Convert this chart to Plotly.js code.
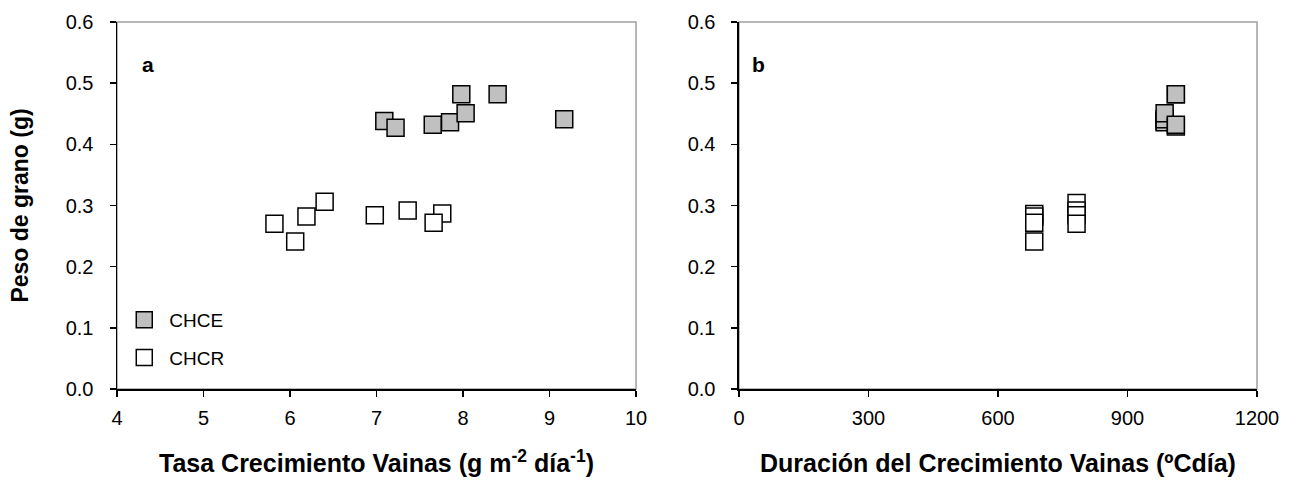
<!DOCTYPE html>
<html>
<head>
<meta charset="utf-8">
<script src="https://cdn.plot.ly/plotly-3.0.1.min.js"></script>
<style>html,body{margin:0;padding:0;background:#fff;}#chart{width:1304px;height:485px;}</style>
</head>
<body>
<div id="chart"></div>
<script>
// Panel a: Tasa Crecimiento Vainas vs Peso de grano
const chceRateA = [7.09, 7.22, 7.65, 7.85, 7.98, 8.03, 8.40, 9.17];
const chceWeightA = [0.438, 0.427, 0.432, 0.436, 0.482, 0.451, 0.482, 0.441];
const chcrRateA = [5.82, 6.06, 6.19, 6.40, 6.98, 7.36, 7.76, 7.66];
const chcrWeightA = [0.270, 0.241, 0.282, 0.306, 0.284, 0.292, 0.287, 0.272];
// Panel b: Duración del Crecimiento Vainas vs Peso de grano
const chceDurB = [986, 986, 986, 986, 1012, 1012, 1012, 1012];
const chceWeightB = [0.438, 0.436, 0.441, 0.451, 0.482, 0.482, 0.429, 0.432];
const chcrDurB = [684, 684, 684, 684, 782, 782, 782, 782];
const chcrWeightB = [0.286, 0.282, 0.272, 0.241, 0.304, 0.292, 0.284, 0.270];
const xTicksA = [4, 5, 6, 7, 8, 9, 10];
const xTicksB = [0, 300, 600, 900, 1200];
const yTicks = [0, 0.1, 0.2, 0.3, 0.4, 0.5, 0.6];

const FONT = "Liberation Sans, Arial, sans-serif";
const grayMarker = {symbol: 'square', size: 17, color: '#c0c0c0', line: {color: '#000', width: 1.5}};
const whiteMarker = {symbol: 'square', size: 17, color: '#ffffff', line: {color: '#000', width: 1.5}};

const traces = [
  {x: chceRateA, y: chceWeightA, mode: 'markers', name: 'CHCE', marker: grayMarker, xaxis: 'x', yaxis: 'y', legendgroup: 'g1'},
  {x: chcrRateA, y: chcrWeightA, mode: 'markers', name: 'CHCR', marker: whiteMarker, xaxis: 'x', yaxis: 'y', legendgroup: 'g2'},
  {x: chcrDurB, y: chcrWeightB, mode: 'markers', name: 'CHCR', marker: whiteMarker, xaxis: 'x2', yaxis: 'y2', showlegend: false},
  {x: chceDurB, y: chceWeightB, mode: 'markers', name: 'CHCE', marker: grayMarker, xaxis: 'x2', yaxis: 'y2', showlegend: false}
];

const axisCommon = {
  showgrid: false, zeroline: false, showline: true, linecolor: '#000', linewidth: 1.5,
  ticks: 'outside', ticklen: 6, tickwidth: 1.5, tickcolor: '#000',
  tickfont: {family: FONT, size: 20, color: '#000'}
};
const xTitleFont = {family: FONT, size: 25, color: '#000', weight: 'bold'};

const layout = {
  width: 1304, height: 485,
  margin: {l: 117, r: 47, t: 22, b: 96},
  paper_bgcolor: '#fff', plot_bgcolor: '#fff',
  font: {family: FONT, color: '#000'},
  showlegend: true,
  legend: {x: 0.002, y: 0.24, xanchor: 'left', yanchor: 'top', bgcolor: 'rgba(0,0,0,0)', itemwidth: 40,
           font: {family: FONT, size: 19, color: '#000'}, tracegroupgap: 10, traceorder: 'grouped'},
  xaxis: Object.assign({}, axisCommon, {domain: [0, 0.4553], range: [4, 10], tickvals: xTicksA, ticklabelstandoff: 4,
    title: {text: 'Tasa Crecimiento Vainas (g m<sup>-2</sup> día<sup>-1</sup>)', font: xTitleFont, standoff: 27}}),
  yaxis: Object.assign({}, axisCommon, {domain: [0, 1], range: [0, 0.6], tickvals: yTicks, tickformat: '.1f', ticklabelstandoff: 12,
    title: {text: 'Peso de grano (g)', font: {family: FONT, size: 23, color: '#000', weight: 'bold'}, standoff: 30}}),
  xaxis2: Object.assign({}, axisCommon, {domain: [0.5456, 1], range: [0, 1200], tickvals: xTicksB, anchor: 'y2', ticklabelstandoff: 4,
    title: {text: 'Duración del Crecimiento Vainas (ºCdía)', font: xTitleFont, standoff: 27}}),
  yaxis2: Object.assign({}, axisCommon, {domain: [0, 1], range: [0, 0.6], tickvals: yTicks, tickformat: '.1f', anchor: 'x2', ticklabelstandoff: 12}),
  shapes: [
    {type: 'rect', xref: 'x domain', yref: 'y domain', x0: 0, x1: 1, y0: 0, y1: 1, line: {color: '#a0a0a0', width: 1.5}, layer: 'below'},
    {type: 'rect', xref: 'x2 domain', yref: 'y2 domain', x0: 0, x1: 1, y0: 0, y1: 1, line: {color: '#a0a0a0', width: 1.5}, layer: 'below'}
  ],
  annotations: [
    {text: '<b>a</b>', xref: 'x domain', yref: 'y domain', x: 0.045, y: 0.885, xanchor: 'left', yanchor: 'middle', showarrow: false, font: {family: FONT, size: 21, color: '#000'}},
    {text: '<b>b</b>', xref: 'x2 domain', yref: 'y2 domain', x: 0.022, y: 0.885, xanchor: 'left', yanchor: 'middle', showarrow: false, font: {family: FONT, size: 21, color: '#000'}}
  ]
};

Plotly.newPlot('chart', traces, layout, {displayModeBar: false, staticPlot: true});
</script>
</body>
</html>
